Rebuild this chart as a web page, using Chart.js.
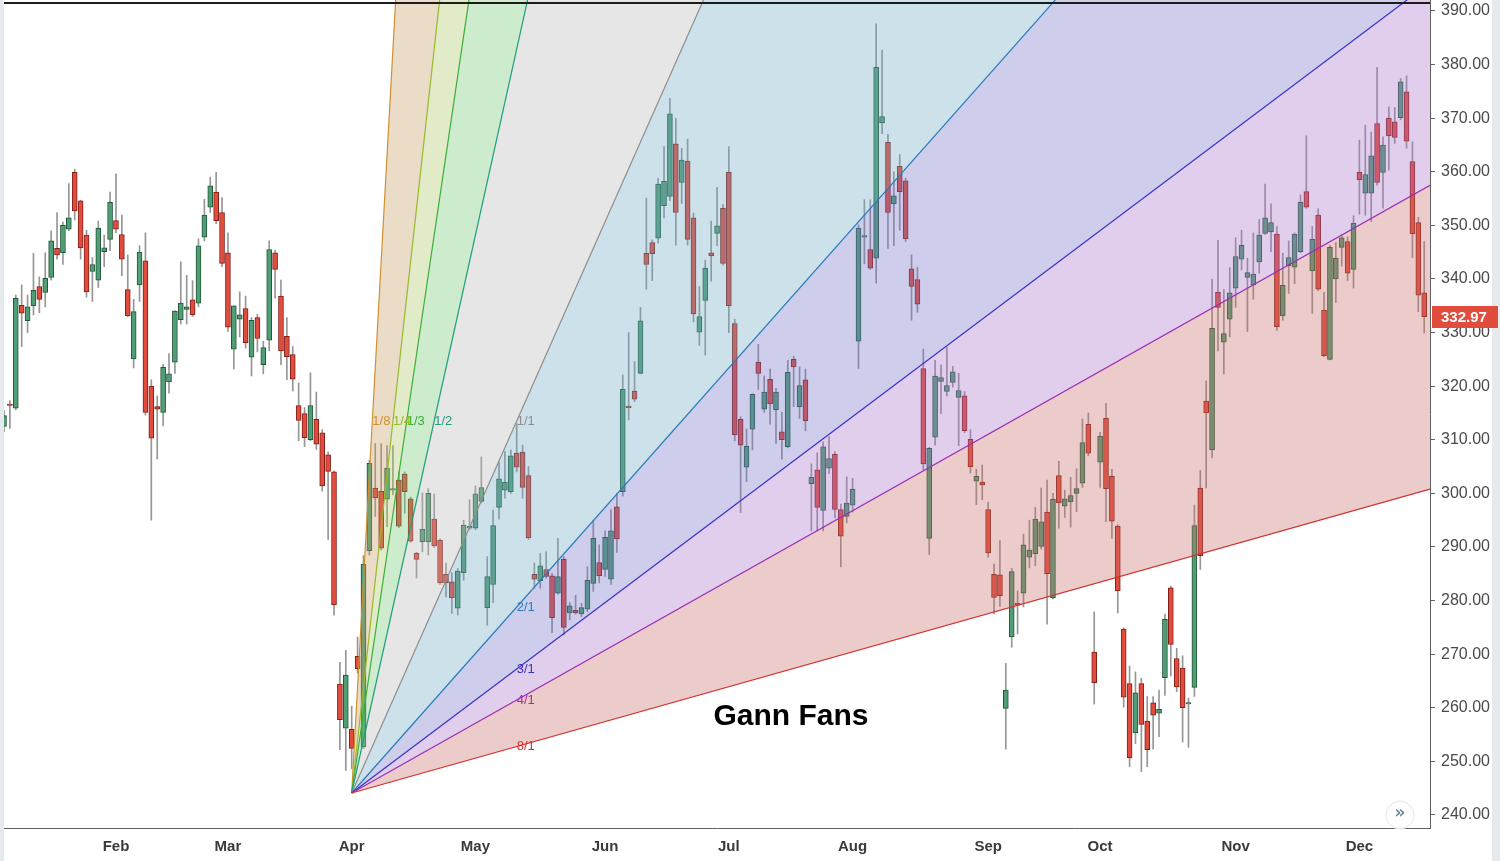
<!DOCTYPE html>
<html><head><meta charset="utf-8">
<style>
html,body{margin:0;padding:0;background:#fff;}
canvas{display:block;}
</style>
<script src="https://cdn.jsdelivr.net/npm/chart.js@4.4.1/dist/chart.umd.min.js"></script>
</head><body>
<canvas id="c" width="1500" height="861"></canvas>
<script>
// ---------- data ----------
const monthTickIndex  = [19, 38, 59, 80, 102, 123, 144, 167, 186, 209, 230];
const monthTickLabels = ['Feb','Mar','Apr','May','Jun','Jul','Aug','Sep','Oct','Nov','Dec'];
const priceTicks = [240,250,260,270,280,290,300,310,320,330,340,350,360,370,380,390];

const opens = [
312.5,316.6,315.9,335.1,332.2,335.0,338.6,337.5,340.3,345.7,
344.9,349.3,359.9,354.6,348.2,341.4,339.8,345.1,347.4,350.9,
348.3,338.0,325.1,338.9,343.4,320.0,316.2,315.1,320.8,324.5,
332.4,334.3,336.1,335.5,347.8,353.4,356.2,352.4,344.9,326.9,
332.5,334.5,325.4,332.8,324.0,328.6,344.9,336.8,329.3,325.9,
316.4,314.9,310.0,313.8,311.3,307.2,304.0,264.4,256.2,256.0,
269.6,252.7,289.3,301.0,300.4,298.9,300.6,302.5,303.6,299.0,
288.8,291.0,291.0,295.2,291.3,284.9,283.5,278.6,285.2,293.5,
293.5,298.5,278.7,283.0,297.4,300.6,300.3,307.5,307.7,303.3,
284.9,283.7,285.8,284.6,281.4,287.7,277.7,278.2,277.5,278.4,
283.2,287.1,285.8,284.0,297.5,300.3,316.3,319.1,322.4,344.8,
346.8,347.6,353.7,355.4,365.2,358.0,362.0,351.4,330.1,336.0,
344.9,348.5,353.2,359.9,331.7,313.8,304.9,312.0,324.5,315.7,
321.3,315.6,311.5,308.7,325.0,316.2,321.2,301.8,304.4,296.8,
304.7,307.3,297.0,295.7,297.8,328.4,347.8,345.5,343.9,369.1,
365.5,354.0,361.0,358.3,341.9,339.9,323.3,291.6,310.5,320.9,
319.0,320.7,317.9,318.2,310.1,302.3,302.1,297.0,284.9,284.8,
259.9,273.2,279.5,281.4,288.1,288.7,290.1,296.5,280.5,303.3,
297.6,298.4,300.0,301.9,312.9,270.4,305.8,314.0,303.2,293.9,
274.7,264.5,255.3,264.5,257.5,260.9,259.0,265.6,282.4,269.2,
267.4,260.7,263.8,301.0,317.2,308.1,337.5,328.2,332.5,338.3,
343.7,340.3,338.9,343.2,348.5,348.8,348.4,333.1,342.5,342.2,
345.1,356.3,341.5,351.9,334.2,325.0,340.0,345.9,347.0,341.8,
359.9,356.0,356.0,369.0,359.9,370.0,369.3,370.1,374.9,361.9,350.5,337.4];

const highs = [
315.5,317.3,337.0,338.9,337.0,344.8,340.4,344.9,349.0,352.4,
350.6,357.8,360.5,354.7,349.1,344.0,350.8,348.2,356.2,359.6,
351.9,344.5,336.2,346.2,348.6,321.2,318.2,324.1,326.1,334.1,
343.2,340.7,339.7,347.5,354.9,359.0,359.9,355.2,348.6,335.0,
337.6,336.8,332.8,333.4,328.4,347.1,345.4,339.8,332.8,327.4,
320.6,316.0,322.5,318.9,311.9,307.7,304.2,268.5,270.7,260.3,
273.2,288.4,306.2,309.3,309.3,308.9,308.9,304.0,304.0,299.3,
289.0,300.1,300.9,299.9,291.5,287.0,285.2,286.0,295.0,298.8,
301.4,306.8,288.2,296.9,305.9,307.8,308.1,313.0,309.0,305.0,
287.0,288.8,289.1,285.1,291.6,288.2,279.6,281.0,279.5,286.3,
295.0,290.4,293.0,297.0,300.0,322.1,330.0,324.6,334.7,355.1,
347.3,358.8,364.7,373.7,370.0,364.4,366.1,352.3,338.6,343.5,
350.8,357.1,353.9,364.7,332.5,314.3,312.0,318.6,327.8,321.9,
323.2,319.6,315.1,324.8,325.6,323.6,323.2,305.5,307.6,309.6,
310.6,307.8,298.0,303.1,302.8,350.1,354.8,354.8,387.6,382.7,
367.0,360.0,363.2,358.8,344.5,342.2,326.9,308.6,324.8,324.0,
327.2,323.7,322.4,319.0,311.9,304.5,305.3,298.4,286.8,291.2,
268.3,286.0,281.8,292.4,295.0,297.4,301.0,302.5,300.0,306.0,
300.6,303.0,304.6,313.9,315.0,277.9,311.4,316.8,304.5,294.2,
274.9,267.8,266.7,265.5,262.1,262.1,263.3,277.5,282.7,271.1,
269.7,261.8,297.8,304.3,321.0,340.0,347.2,338.0,342.1,347.7,
349.1,343.9,348.6,351.1,357.7,354.0,349.8,344.8,347.1,348.6,
355.7,366.7,349.8,353.1,337.5,346.3,346.8,348.2,347.9,351.8,
365.9,368.7,367.4,379.5,366.5,372.1,372.0,377.4,377.9,365.6,351.5,347.0];

const lows = [
311.5,312.1,315.6,327.4,330.0,333.3,333.7,334.8,339.8,343.7,
342.7,349.0,351.0,343.7,336.6,335.8,338.4,342.3,345.3,348.6,
340.6,333.0,323.4,335.8,314.6,295.0,306.4,312.6,318.7,322.4,
331.6,331.6,333.0,334.8,347.1,352.4,350.3,342.3,330.2,323.2,
329.2,327.1,321.9,326.4,322.3,326.6,336.4,324.0,321.2,319.1,
309.8,308.7,309.8,308.2,300.4,291.4,277.3,252.2,248.3,248.6,
266.5,252.4,288.5,295.7,289.4,293.8,299.7,293.6,296.3,290.9,
284.2,289.1,288.5,289.9,283.0,280.7,277.6,277.3,283.8,293.2,
293.2,298.2,275.4,279.6,295.2,299.1,300.0,304.0,299.1,291.4,
282.3,282.3,284.2,274.0,281.2,273.6,276.4,277.5,277.0,277.9,
281.7,283.3,284.5,283.0,289.0,299.5,313.7,317.1,322.3,338.1,
339.7,346.7,351.4,354.6,346.3,354.1,346.3,332.0,327.6,325.8,
339.6,346.2,342.6,330.0,309.8,296.4,302.2,308.1,319.4,315.1,
312.9,309.3,306.4,308.5,316.2,314.0,311.7,293.0,293.0,293.0,
303.7,295.4,286.3,294.5,296.5,323.3,342.8,341.8,339.2,367.1,
345.7,346.2,349.1,347.0,332.3,333.8,304.4,288.6,309.0,314.9,
318.2,319.8,308.9,311.3,303.8,297.9,298.8,288.1,277.5,278.9,
252.3,271.3,273.8,278.8,286.1,286.5,289.6,275.6,280.3,293.5,
295.5,293.7,296.6,301.1,307.0,260.7,301.1,294.7,291.6,277.7,
260.1,249.0,253.3,248.1,249.0,252.3,254.6,262.3,265.9,263.0,
253.6,252.6,262.1,285.8,301.0,306.6,326.6,322.3,329.2,334.7,
341.7,330.2,336.2,341.1,348.3,345.1,330.4,332.3,337.3,339.1,
344.9,353.2,333.6,337.8,325.5,324.9,335.6,342.4,339.7,338.3,
352.1,351.9,350.7,357.5,353.2,360.3,365.3,369.7,364.4,344.0,333.9,329.9];

const closes = [
314.5,316.4,336.4,333.6,334.8,337.9,336.2,340.1,347.1,344.5,
350.0,351.4,352.7,345.8,337.6,342.7,349.5,345.8,354.3,349.3,
343.7,333.1,333.9,345.0,315.1,310.3,315.7,323.5,322.3,334.0,
335.5,334.8,333.3,346.2,351.9,357.4,350.9,342.9,331.0,335.0,
333.3,328.1,332.3,328.9,327.2,345.5,341.8,326.6,325.5,321.3,
313.6,310.4,316.4,309.2,301.4,304.1,279.2,257.8,266.1,252.4,
267.3,286.8,305.6,299.2,289.8,304.7,300.9,293.9,300.3,291.1,
287.7,293.3,300.0,290.2,283.3,283.3,280.5,285.5,294.1,293.9,
299.9,301.1,284.5,294.0,302.7,302.1,307.0,304.9,301.1,291.7,
284.0,286.5,284.5,276.8,284.5,275.0,279.0,277.7,278.7,283.8,
291.6,284.6,291.8,293.0,291.5,319.4,316.0,317.6,332.2,342.7,
344.7,357.7,358.2,370.8,352.4,362.2,347.4,333.5,333.0,342.0,
344.3,349.9,342.9,335.0,310.9,309.0,308.8,318.5,322.4,318.9,
316.7,318.9,310.0,322.6,323.6,320.1,313.5,303.0,297.4,308.7,
306.5,297.0,292.0,298.2,300.8,349.5,348.1,342.0,379.5,370.3,
352.4,355.5,356.3,347.5,338.6,335.3,305.5,308.4,321.9,321.6,
320.1,322.7,319.2,311.7,305.0,303.2,301.6,288.9,280.6,280.9,
263.3,285.4,279.2,290.4,289.4,295.2,294.7,285.0,298.9,298.2,
299.0,299.6,300.9,309.5,307.5,264.7,310.7,300.9,294.8,281.8,
262.0,250.7,262.8,256.9,252.2,258.6,259.7,276.5,271.8,263.9,
260.0,260.9,294.0,288.4,315.0,330.8,334.7,329.8,337.4,344.2,
346.3,341.2,340.9,348.2,351.4,350.5,331.1,338.8,344.0,348.4,
354.3,353.4,347.4,338.1,325.7,345.9,343.9,347.7,341.1,350.4,
358.5,359.5,363.0,358.0,365.0,366.7,366.4,376.8,365.7,348.4,337.0,332.97];

// Gann fan definition (origin + 1x1 box) and its ratios
const fanOrigin = {index: 59, price: 244.1};
const fanUnit   = {bars: 28, price: 69.4};
const fanRatios = ['8/1','4/1','3/1','2/1','1/1','1/2','1/3','1/4','1/8'];
const horizontalLinePrice = 391.5;
const chartTitle = 'Gann Fans';

// ---------- styles ----------
const X_MIN = 0, X_MAX = 241.98, Y_MIN = 237.57, Y_MAX = 392.05;
const fanLineColors = ['#d3302e','#9a2db4','#3a32c2','#2a7cbc','#8e8e8e','#1f9e7c','#3aae3a','#9ab82c','#d08f2e'];
const fanFillColors = [null,'rgba(201,109,104,0.35)','rgba(166,115,201,0.35)','rgba(115,115,201,0.35)',
  'rgba(112,169,198,0.35)','rgba(184,184,184,0.35)','rgba(112,198,112,0.35)','rgba(169,198,98,0.35)','rgba(198,155,98,0.35)'];
const UP_FILL='rgb(80,158,118)', UP_LINE='rgb(34,86,56)', DN_FILL='rgb(226,76,60)', DN_LINE='rgb(128,30,24)', WICK='rgb(150,150,150)';

Chart.defaults.font.family = "'Liberation Sans', Arial, sans-serif";

const wickData = opens.map((o,i)=>({x:i, y:[lows[i], highs[i]]}));
const bodyData = opens.map((o,i)=>({x:i, y:[Math.min(o,closes[i]), Math.max(o,closes[i])]}));
const isUp = opens.map((o,i)=>closes[i] >= o);

function fanGeom(r){
  const [p,q] = r.split('/').map(Number);
  const dx = fanUnit.bars * Math.min(1, p/q);
  const dy = fanUnit.price * Math.min(1, q/p);
  return {dx, dy, slope: dy/dx};
}

const fanDatasets = fanRatios.map((r,k)=>{
  const g = fanGeom(r);
  return {
    type:'line', label:r, order:0,
    data:[{x:fanOrigin.index, y:fanOrigin.price},
          {x:X_MAX, y:fanOrigin.price + g.slope*(X_MAX - fanOrigin.index)}],
    borderColor: fanLineColors[k], borderWidth:1.2, pointRadius:0, tension:0,
    fill: k===0 ? false : '-1',
    backgroundColor: fanFillColors[k] || 'rgba(0,0,0,0)'
  };
});

const overlayPlugin = {
  id:'overlay',
  beforeDraw(chart){
    const ctx = chart.ctx;
    ctx.save();
    ctx.fillStyle = '#e6e9ee';
    ctx.fillRect(0,0,chart.width,chart.height);
    ctx.fillStyle = '#ffffff';
    ctx.fillRect(4,0,1488,chart.height);
    ctx.restore();
  },
  afterDatasetsDraw(chart){
    const ctx = chart.ctx, xs = chart.scales.x, ys = chart.scales.y;
    ctx.save();
    ctx.font = "13px 'Liberation Sans', Arial, sans-serif";
    ctx.textAlign = 'left'; ctx.textBaseline = 'middle';
    fanRatios.forEach((r,k)=>{
      const g = fanGeom(r);
      const px = xs.getPixelForValue(fanOrigin.index + g.dx);
      const py = ys.getPixelForValue(fanOrigin.price + g.dy);
      ctx.fillStyle = fanLineColors[k];
      ctx.fillText(r, px, py);
    });
    ctx.fillStyle = '#000';
    ctx.font = "bold 30px 'Liberation Sans', Arial, sans-serif";
    ctx.textAlign = 'center';
    ctx.fillText(chartTitle, 791, 717);
    ctx.restore();
  },
  afterDraw(chart){
    const ctx = chart.ctx, ys = chart.scales.y, area = chart.chartArea;
    const last = closes[closes.length-1];
    const py = Math.round(ys.getPixelForValue(last));
    ctx.save();
    ctx.fillStyle = DN_FILL;
    ctx.fillRect(area.right+2, py-11, 66, 22);
    ctx.fillStyle = '#fff';
    ctx.font = "bold 15px 'Liberation Sans', Arial, sans-serif";
    ctx.textAlign = 'left'; ctx.textBaseline = 'middle';
    ctx.fillText(last.toFixed(2), area.right+11, py+1);
    // scroll button
    ctx.beginPath(); ctx.arc(1400, 815, 14, 0, Math.PI*2);
    ctx.fillStyle = '#fff'; ctx.fill();
    ctx.strokeStyle = '#e2e5ea'; ctx.lineWidth = 1; ctx.stroke();
    ctx.fillStyle = '#6b8797'; ctx.font = "bold 17px 'DejaVu Sans', sans-serif";
    ctx.textAlign = 'center'; ctx.fillText('\u00BB', 1400, 814);
    ctx.restore();
  }
};

new Chart(document.getElementById('c'), {
  type:'bar',
  data:{
    datasets:[
      {type:'bar', label:'wicks', order:11, data:wickData, grouped:false, barThickness:1,
       backgroundColor:WICK, borderWidth:0, clip:0},
      {type:'bar', label:'bodies', order:10, data:bodyData, grouped:false, barThickness:5,
       backgroundColor:isUp.map(u=>u?UP_FILL:DN_FILL), borderColor:isUp.map(u=>u?UP_LINE:DN_LINE),
       borderWidth:1, borderSkipped:false, minBarLength:1.5, clip:0},
      {type:'line', label:'hline', order:0,
       data:[{x:X_MIN,y:horizontalLinePrice},{x:X_MAX,y:horizontalLinePrice}],
       borderColor:'#1c1c1c', borderWidth:2, pointRadius:0, fill:false},
      ...fanDatasets
    ]
  },
  options:{
    responsive:false, animation:false, devicePixelRatio:1, events:[],
    layout:{padding:{left:4, top:0, right:0, bottom:0}},
    plugins:{legend:{display:false}, tooltip:{enabled:false}, filler:{propagate:false}},
    scales:{
      x:{
        type:'linear', min:X_MIN, max:X_MAX, offset:false,
        grid:{display:false, drawTicks:false},
        border:{display:true, color:'#606060', width:1},
        ticks:{autoSkip:false, maxRotation:0, padding:10, color:'#3a3a3a',
               font:{size:15, weight:'bold'},
               callback:(v)=>{const k=monthTickIndex.indexOf(v); return k>=0?monthTickLabels[k]:'';}},
        afterBuildTicks:(s)=>{s.ticks = monthTickIndex.map(v=>({value:v}));},
        afterFit:(s)=>{s.height = 33; s.paddingLeft = 0; s.paddingRight = 0;}
      },
      y:{
        type:'linear', position:'right', min:Y_MIN, max:Y_MAX,
        grid:{drawOnChartArea:false, drawTicks:true, tickLength:5, color:'#606060'},
        border:{display:true, color:'#606060', width:1},
        ticks:{padding:6, color:'#4a4a4a', font:{size:16}, callback:(v)=>Number(v).toFixed(2)},
        afterBuildTicks:(s)=>{s.ticks = priceTicks.map(v=>({value:v}));},
        afterFit:(s)=>{s.width = 70; s.paddingTop = 0; s.paddingBottom = 0;}
      }
    }
  },
  plugins:[overlayPlugin]
});
</script>
</body></html>
